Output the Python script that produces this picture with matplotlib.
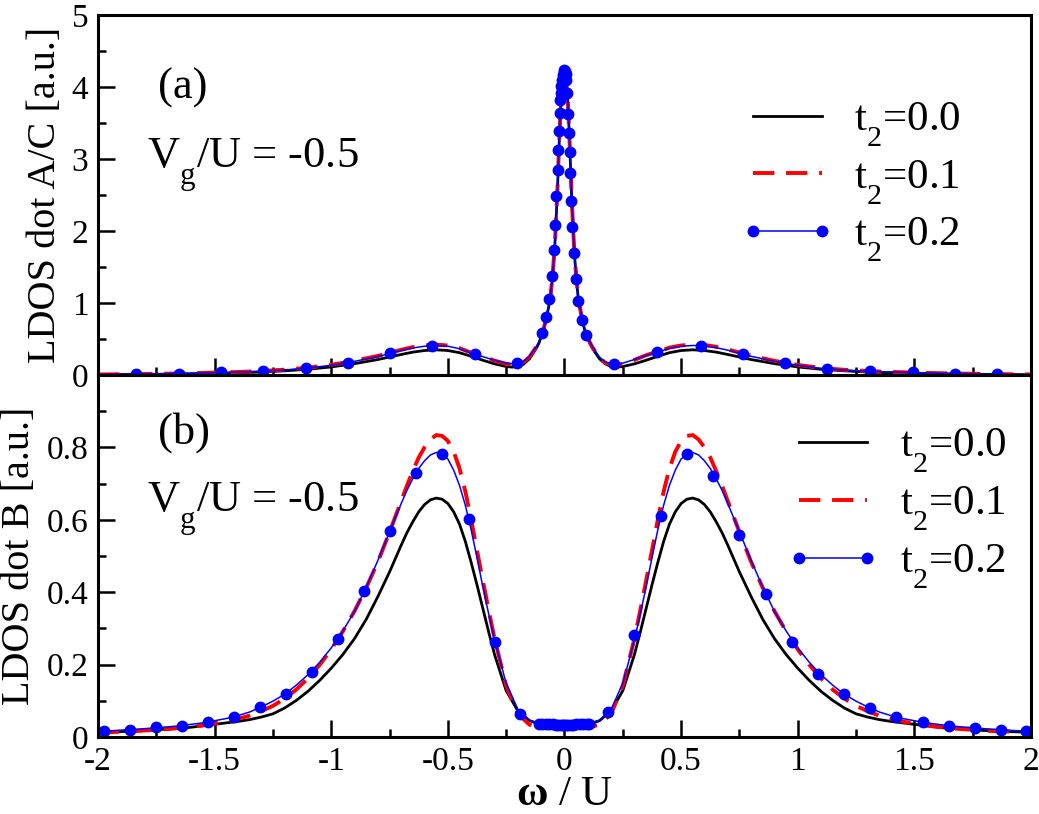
import matplotlib
matplotlib.use('Agg')
import matplotlib.pyplot as plt
import matplotlib._mathtext as mathtext_internal
from matplotlib.lines import Line2D

plt.rcParams['font.family'] = ['Liberation Serif', 'DejaVu Serif']
plt.rcParams['mathtext.fontset'] = 'custom'
plt.rcParams['mathtext.rm'] = 'Liberation Serif'
plt.rcParams['mathtext.it'] = 'Liberation Serif:italic'
plt.rcParams['mathtext.bf'] = 'Liberation Serif:bold'
plt.rcParams['axes.unicode_minus'] = False
# grace-style subscripts sit lower than matplotlib's default
mathtext_internal.FontConstantsBase.sub1 = 0.85

# ---- panel (a): LDOS on dots A/C ----
xa = [-2.0, -1.9, -1.8, -1.7, -1.6, -1.5, -1.4, -1.3, -1.2, -1.1, -1.0, -0.9, -0.8, -0.7,
      -0.65, -0.6, -0.55, -0.5, -0.45, -0.4, -0.35, -0.3, -0.25, -0.225, -0.2, -0.175, -0.15,
      -0.12, -0.11, -0.1, -0.09, -0.08, -0.07, -0.06, -0.05, -0.045, -0.04, -0.035, -0.03,
      -0.025, -0.02, -0.015, -0.01, -0.005, 0.0,
      0.005, 0.01, 0.015, 0.02, 0.025, 0.03, 0.035, 0.04, 0.045, 0.05, 0.06, 0.07, 0.08,
      0.09, 0.1, 0.11, 0.12, 0.15, 0.175, 0.2, 0.225, 0.25, 0.3, 0.35, 0.4, 0.45, 0.5, 0.55,
      0.6, 0.65, 0.7, 0.8, 0.9, 1.0, 1.1, 1.2, 1.3, 1.4, 1.5, 1.6, 1.7, 1.8, 1.9, 2.0]

ya_t00 = [0.004, 0.006, 0.009, 0.012, 0.017, 0.023, 0.031, 0.042, 0.058, 0.080,
          0.112, 0.158, 0.215, 0.285, 0.318, 0.340, 0.350, 0.340, 0.310, 0.260,
          0.205, 0.155, 0.118, 0.110, 0.118, 0.152, 0.225, 0.375, 0.440, 0.530,
          0.610, 0.760, 0.910, 1.080, 1.400, 1.640, 1.880, 2.230, 2.580, 3.030,
          3.430, 3.830, 4.030, 4.150,
          4.200,
          4.130, 3.980, 3.760, 3.380, 2.960, 2.530, 2.160, 1.830, 1.580, 1.360,
          1.030, 0.860, 0.710, 0.580, 0.500, 0.430, 0.370, 0.225, 0.155, 0.118,
          0.110, 0.118, 0.155, 0.205, 0.260, 0.310, 0.340, 0.350, 0.340, 0.318,
          0.285, 0.215, 0.158, 0.112, 0.080, 0.058, 0.042, 0.031, 0.023, 0.017,
          0.012, 0.009, 0.006, 0.004]

ya_t01 = [0.008, 0.011, 0.014, 0.019, 0.025, 0.033, 0.042, 0.055, 0.074, 0.102,
          0.142, 0.198, 0.265, 0.350, 0.388, 0.412, 0.422, 0.410, 0.372, 0.310,
          0.255, 0.200, 0.155, 0.143, 0.148, 0.180, 0.252, 0.395, 0.455, 0.545,
          0.625, 0.775, 0.925, 1.095, 1.415, 1.655, 1.895, 2.245, 2.595, 3.045,
          3.445, 3.845, 4.045, 4.165,
          4.215,
          4.145, 3.995, 3.775, 3.395, 2.975, 2.545, 2.175, 1.845, 1.595, 1.375,
          1.045, 0.875, 0.725, 0.595, 0.515, 0.445, 0.385, 0.242, 0.170, 0.140,
          0.138, 0.155, 0.210, 0.275, 0.325, 0.380, 0.410, 0.422, 0.418, 0.392,
          0.355, 0.268, 0.197, 0.140, 0.098, 0.072, 0.055, 0.043, 0.034, 0.026,
          0.020, 0.015, 0.011, 0.008]

ya_t02 = [0.008, 0.011, 0.014, 0.019, 0.025, 0.032, 0.040, 0.052, 0.070, 0.097,
          0.135, 0.190, 0.255, 0.340, 0.375, 0.400, 0.410, 0.400, 0.365, 0.305,
          0.255, 0.205, 0.165, 0.155, 0.160, 0.190, 0.260, 0.400, 0.460, 0.550,
          0.630, 0.780, 0.930, 1.100, 1.420, 1.660, 1.900, 2.250, 2.600, 3.050,
          3.450, 3.850, 4.050, 4.170,
          4.220,
          4.150, 4.000, 3.780, 3.400, 2.980, 2.550, 2.180, 1.850, 1.600, 1.380,
          1.050, 0.880, 0.730, 0.600, 0.520, 0.450, 0.390, 0.250, 0.180, 0.152,
          0.150, 0.165, 0.215, 0.270, 0.318, 0.370, 0.400, 0.410, 0.405, 0.380,
          0.345, 0.260, 0.190, 0.135, 0.092, 0.068, 0.053, 0.042, 0.033, 0.025,
          0.019, 0.014, 0.010, 0.007]

# symbols of the t2=0.2 set
xm_a = [-1.837, -1.653, -1.473, -1.293, -1.108, -0.928, -0.748, -0.568, -0.384, -0.204,
        -0.098, -0.081, -0.066, -0.055, -0.046, -0.039, -0.035, -0.029, -0.026, -0.023,
        -0.021, -0.019, -0.016, -0.013, -0.010, -0.007, -0.004, -0.001, 0.002, 0.005,
        0.008, 0.0115, 0.0144, 0.0187, 0.023, 0.0244, 0.0273, 0.0316, 0.0402, 0.0488,
        0.060, 0.077, 0.092, 0.212, 0.396, 0.585, 0.765, 0.945, 1.125, 1.31, 1.494,
        1.674, 1.854]
ym_a = [0.012, 0.020, 0.035, 0.058, 0.093, 0.171, 0.300, 0.407, 0.287, 0.171,
        0.588, 0.80, 1.06, 1.38, 1.74, 2.09, 2.48, 2.85, 3.13, 3.39,
        3.64, 3.82, 3.92, 4.02, 4.10, 4.16, 4.21, 4.23, 4.22, 4.18,
        4.10, 3.92, 3.62, 3.36, 3.10, 2.80, 2.42, 2.05, 1.70, 1.34,
        1.03, 0.77, 0.56, 0.148, 0.315, 0.407, 0.287, 0.162, 0.083, 0.056, 0.037,
        0.019, 0.010]

# ---- panel (b): LDOS on dot B ----
xb = [-2.0, -1.95, -1.9, -1.85, -1.8, -1.75, -1.7, -1.65, -1.6, -1.55,
      -1.5, -1.45, -1.4, -1.35, -1.3, -1.25, -1.2, -1.15, -1.1, -1.05,
      -1.0, -0.95, -0.9, -0.85, -0.8, -0.75, -0.7, -0.675, -0.65, -0.625,
      -0.6, -0.575, -0.55, -0.525, -0.5, -0.475, -0.45, -0.425, -0.4, -0.375,
      -0.35, -0.325, -0.3, -0.25, -0.2, -0.15, -0.1, -0.05,
      0.0,
      0.05, 0.1, 0.15, 0.2, 0.25, 0.3, 0.325, 0.35, 0.375, 0.4,
      0.425, 0.45, 0.475, 0.5, 0.525, 0.55, 0.575, 0.6, 0.625, 0.65,
      0.675, 0.7, 0.75, 0.8, 0.85, 0.9, 0.95, 1.0, 1.05, 1.1,
      1.15, 1.2, 1.25, 1.3, 1.35, 1.4, 1.45, 1.5, 1.55, 1.6,
      1.65, 1.7, 1.75, 1.8, 1.85, 1.9, 1.95, 2.0]

yb_t00 = [0.013, 0.014, 0.015, 0.016, 0.018, 0.020, 0.022, 0.024, 0.027, 0.031,
          0.035, 0.039, 0.043, 0.048, 0.055, 0.064, 0.080, 0.101, 0.126, 0.156,
          0.190, 0.228, 0.272, 0.325, 0.388, 0.456, 0.530, 0.565, 0.595, 0.622,
          0.642, 0.655, 0.660, 0.657, 0.645, 0.622, 0.588, 0.540, 0.482, 0.420,
          0.355, 0.290, 0.228, 0.128, 0.072, 0.045, 0.034, 0.030,
          0.029,
          0.030, 0.034, 0.045, 0.072, 0.128, 0.228, 0.290, 0.355, 0.420, 0.482,
          0.540, 0.588, 0.622, 0.645, 0.657, 0.660, 0.655, 0.642, 0.622, 0.595,
          0.565, 0.530, 0.456, 0.388, 0.325, 0.272, 0.228, 0.190, 0.156, 0.126,
          0.101, 0.080, 0.064, 0.055, 0.048, 0.043, 0.039, 0.035, 0.031, 0.027,
          0.024, 0.022, 0.020, 0.018, 0.016, 0.015, 0.014, 0.013]

yb_t01 = [0.012, 0.013, 0.015, 0.016, 0.018, 0.020, 0.022, 0.025, 0.028, 0.032,
          0.037, 0.043, 0.050, 0.059, 0.071, 0.086, 0.106, 0.131, 0.162, 0.199,
          0.242, 0.292, 0.348, 0.412, 0.484, 0.566, 0.652, 0.695, 0.735, 0.772,
          0.800, 0.822, 0.834, 0.832, 0.818, 0.788, 0.742, 0.678, 0.600, 0.515,
          0.432, 0.350, 0.272, 0.142, 0.064, 0.034, 0.026, 0.024,
          0.024,
          0.024, 0.026, 0.034, 0.064, 0.142, 0.272, 0.350, 0.432, 0.515, 0.600,
          0.678, 0.742, 0.788, 0.818, 0.832, 0.834, 0.822, 0.800, 0.772, 0.735,
          0.695, 0.652, 0.566, 0.484, 0.412, 0.348, 0.292, 0.242, 0.199, 0.162,
          0.131, 0.106, 0.086, 0.071, 0.059, 0.050, 0.043, 0.037, 0.032, 0.028,
          0.025, 0.022, 0.020, 0.018, 0.016, 0.015, 0.013, 0.012]

yb_t02 = [0.015, 0.017, 0.019, 0.021, 0.023, 0.026, 0.028, 0.031, 0.035, 0.039,
          0.045, 0.051, 0.059, 0.069, 0.083, 0.099, 0.118, 0.143, 0.172, 0.206,
          0.246, 0.293, 0.347, 0.414, 0.488, 0.567, 0.645, 0.682, 0.714, 0.742,
          0.763, 0.779, 0.786, 0.782, 0.768, 0.737, 0.695, 0.640, 0.572, 0.495,
          0.415, 0.340, 0.268, 0.148, 0.077, 0.046, 0.037, 0.035,
          0.035,
          0.035, 0.037, 0.046, 0.077, 0.148, 0.268, 0.340, 0.415, 0.495, 0.572,
          0.640, 0.695, 0.737, 0.768, 0.782, 0.786, 0.779, 0.763, 0.742, 0.714,
          0.682, 0.645, 0.567, 0.488, 0.414, 0.347, 0.293, 0.246, 0.206, 0.172,
          0.143, 0.118, 0.099, 0.083, 0.069, 0.059, 0.051, 0.045, 0.039, 0.035,
          0.031, 0.028, 0.026, 0.023, 0.021, 0.019, 0.017, 0.015]

xm_b = [-1.974, -1.863, -1.75, -1.64, -1.53, -1.417, -1.305, -1.194, -1.083, -0.971,
        -0.86, -0.748, -0.637, -0.525, -0.41, -0.298, -0.19,
        -0.11, -0.095, -0.08, -0.065, -0.05, -0.038, -0.027, -0.017, -0.008, 0.0,
        0.008, 0.017, 0.027, 0.038, 0.05, 0.065, 0.08, 0.095, 0.105,
        0.187, 0.30, 0.414, 0.525, 0.637, 0.749, 0.862, 0.974, 1.085, 1.197,
        1.31, 1.42, 1.535, 1.647, 1.758, 1.87, 1.98]
ym_b = [0.017, 0.020, 0.027, 0.031, 0.042, 0.056, 0.082, 0.120, 0.180, 0.272,
        0.403, 0.569, 0.729, 0.781, 0.603, 0.263, 0.063,
        0.037, 0.036, 0.035, 0.035, 0.035, 0.034, 0.034, 0.034, 0.034, 0.034,
        0.034, 0.034, 0.034, 0.034, 0.035, 0.035, 0.035, 0.036, 0.037,
        0.070, 0.283, 0.610, 0.783, 0.720, 0.557, 0.394, 0.263, 0.174, 0.118,
        0.081, 0.056, 0.042, 0.031, 0.026, 0.019, 0.017]

labels = ['t$_\\mathregular{2}$=0.0', 't$_\\mathregular{2}$=0.1', 't$_\\mathregular{2}$=0.2']
xticks = [-2, -1.5, -1, -0.5, 0, 0.5, 1, 1.5, 2]
xticklabels = ['-2', '-1.5', '-1', '-0.5', '0', '0.5', '1', '1.5', '2']
xminor = [-1.75, -1.25, -0.75, -0.25, 0.25, 0.75, 1.25, 1.75]
ya_ticks = [0, 1, 2, 3, 4, 5]
ya_minor = [0.5, 1.5, 2.5, 3.5, 4.5]
yb_ticks = [0, 0.2, 0.4, 0.6, 0.8]
yb_ticklabels = ['0', '0.2', '0.4', '0.6', '0.8']
yb_minor = [0.1, 0.3, 0.5, 0.7, 0.9]

red_dash = (0, (5.5, 3.0))


def style(ax):
    for s in ax.spines.values():
        s.set_linewidth(2.2)
    ax.tick_params(which='both', direction='in', top=False, right=False, width=1.8, labelsize=24)
    ax.tick_params(which='major', length=12, pad=7)
    ax.tick_params(which='minor', length=6)
    ax.set_xlim(-2, 2)
    ax.set_xticks(xticks)
    ax.set_xticks(xminor, minor=True)


def draw(ax, x, y0, y1, y2, xm, ym):
    ax.plot(x, y0, color='black', lw=2.0)
    ax.plot(x, y1, color='#ff0000', lw=2.8, ls=red_dash)
    ax.plot(x, y2, color='#0000ff', lw=1.1)
    ax.plot(xm, ym, ls='none', marker='o', ms=7.5, color='#0000ff')


def legend(ax, anchor):
    h = [Line2D([], [], color='black', lw=2.0),
         Line2D([], [], color='#ff0000', lw=2.8, ls=red_dash),
         Line2D([], [], color='#0000ff', lw=1.1, marker='o', ms=7.5)]
    ax.legend(h, labels, loc='upper left', bbox_to_anchor=anchor, frameon=False,
              fontsize=31, handlelength=2.2, handletextpad=0.45, labelspacing=0.22,
              borderpad=0, borderaxespad=0, numpoints=2)


fig = plt.figure(figsize=(10.39, 8.14), dpi=100)
ax1 = fig.add_axes([0.0943, 0.5393, 0.898, 0.4423])
ax2 = fig.add_axes([0.0943, 0.0946, 0.898, 0.4447])

# top panel
draw(ax1, xa, ya_t00, ya_t01, ya_t02, xm_a, ym_a)
style(ax1)
ax1.set_xticklabels([])
ax1.set_ylim(0, 5)
ax1.set_yticks(ya_ticks)
ax1.set_yticks(ya_minor, minor=True)
ax1.set_ylabel('LDOS dot A/C [a.u.]', fontsize=29)
ax1.yaxis.set_label_coords(-0.036, 0.5)
ax1.text(0.064, 0.797, '(a)', fontsize=32, va='center', transform=ax1.transAxes)
ax1.text(0.0525, 0.575, 'V$_\\mathregular{g}$/U = -0.5', fontsize=32, va='baseline',
         transform=ax1.transAxes)
legend(ax1, (0.688, 0.762))

# bottom panel
draw(ax2, xb, yb_t00, yb_t01, yb_t02, xm_b, ym_b)
style(ax2)
ax2.set_xticklabels(xticklabels)
ax2.set_ylim(0, 1.0)
ax2.set_yticks(yb_ticks)
ax2.set_yticklabels(yb_ticklabels)
ax2.set_yticks(yb_minor, minor=True)
ax2.set_ylabel('LDOS dot B [a.u.]', fontsize=29)
ax2.yaxis.set_label_coords(-0.064, 0.5)
ax2.set_xlabel('$\\mathbf{\\omega}$ / U', fontsize=31)
ax2.xaxis.set_label_coords(0.5, -0.105)
ax2.text(0.064, 0.84, '(b)', fontsize=32, va='center', transform=ax2.transAxes)
ax2.text(0.0525, 0.6215, 'V$_\\mathregular{g}$/U = -0.5', fontsize=32, va='baseline',
         transform=ax2.transAxes)
legend(ax2, (0.737, 0.856))

fig.savefig('out.png', dpi=100)
